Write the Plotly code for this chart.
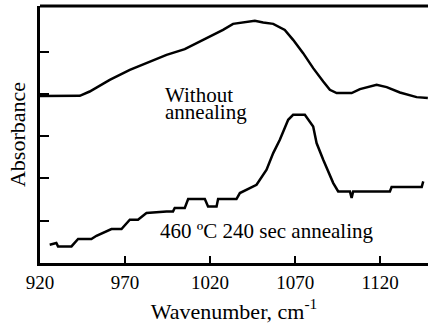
import plotly.graph_objects as go

# Without annealing
wn_a = [920, 943.4, 949.2, 961.0, 972.8, 984.5, 994.4, 1005.1, 1015.9, 1027.6, 1033.5, 1039.4,
        1046.3, 1051.2, 1057.1, 1063.9, 1068.8, 1074.7, 1080.6, 1086.5, 1090.4, 1094.4, 1103.2,
        1108.1, 1117.9, 1123.8, 1131.6, 1141.4, 1148]
abs_a = [3.948, 3.955, 4.057, 4.333, 4.570, 4.766, 4.924, 5.059, 5.279, 5.515, 5.657, 5.688,
         5.728, 5.688, 5.657, 5.515, 5.279, 4.965, 4.610, 4.293, 4.097, 4.019, 4.019,
         4.113, 4.215, 4.161, 4.033, 3.924, 3.901]

# 460 ºC 240 sec annealing
wn_b = [925.7, 929.6, 930.6, 938.5, 942.4, 950.2, 953.2, 962.0, 967.9, 972.8, 977.6, 982.6,
        994.4, 998.2, 999.2, 1005.1, 1007.1, 1016.9, 1018.8, 1023.8, 1024.7, 1035.5, 1037.5,
        1043.4, 1047.3, 1053.2, 1057.1, 1061.0, 1065.9, 1068.8, 1075.7, 1080.6, 1082.6,
        1086.5, 1089.4, 1092.4, 1095.3, 1102.2, 1103.2, 1104.1, 1125.7, 1126.7, 1144.4, 1145.3]
abs_b = [0.433, 0.473, 0.392, 0.392, 0.567, 0.567, 0.645, 0.804, 0.804, 1.024, 1.024, 1.182,
         1.22, 1.22, 1.30, 1.30, 1.513, 1.513, 1.338, 1.338, 1.513, 1.513, 1.655,
         1.773, 1.851, 2.206, 2.60, 2.915, 3.388, 3.506, 3.506, 3.229, 2.837,
         2.442, 2.166, 1.891, 1.693, 1.693, 1.537, 1.693, 1.693, 1.797, 1.797, 1.93]

x_ticks = [920, 970, 1020, 1070, 1120]
y_ticks = [1, 2, 3, 4, 5]

font = "Liberation Serif, Times New Roman, serif"

fig = go.Figure()
fig.add_trace(go.Scatter(x=wn_a, y=abs_a, mode="lines", line=dict(color="black", width=2.5),
                         showlegend=False, hoverinfo="skip"))
fig.add_trace(go.Scatter(x=wn_b, y=abs_b, mode="lines", line=dict(color="black", width=2.5),
                         showlegend=False, hoverinfo="skip"))

fig.update_layout(
    width=428, height=329,
    margin=dict(l=40, r=0, t=6, b=66),
    paper_bgcolor="white", plot_bgcolor="white",
    font=dict(family=font, color="black", size=19),
    xaxis=dict(range=[920, 1148.1], tickvals=x_ticks, ticktext=[str(v) for v in x_ticks],
               ticks="inside", ticklen=7, tickwidth=1.5, tickcolor="black",
               showline=True, linewidth=3, linecolor="black", showgrid=False, zeroline=False,
               tickfont=dict(size=19),
               title=dict(text="Wavenumber, cm<sup>-1</sup>", font=dict(size=22), standoff=12)),
    yaxis=dict(range=[0, 6.08], tickvals=y_ticks, showticklabels=False,
               ticks="inside", ticklen=9, tickwidth=1.5, tickcolor="black",
               showline=True, linewidth=3, linecolor="black", showgrid=False, zeroline=False,
               title=dict(text="Absorbance", font=dict(size=22), standoff=6)),
    shapes=[dict(type="line", xref="paper", yref="paper", x0=0, x1=1, y0=1, y1=1,
                 line=dict(color="black", width=3))],
    annotations=[
        dict(text="Without", x=992.2, y=3.98, xref="x", yref="y", xanchor="left",
             yanchor="middle", showarrow=False, font=dict(size=21)),
        dict(text="annealing", x=992.2, y=3.57, xref="x", yref="y", xanchor="left",
             yanchor="middle", showarrow=False, font=dict(size=21)),
        dict(text="460 ºC 240 sec annealing", x=989.2, y=0.76, xref="x", yref="y",
             xanchor="left", yanchor="middle", showarrow=False, font=dict(size=21)),
    ],
)

fig.write_html("out.html")
